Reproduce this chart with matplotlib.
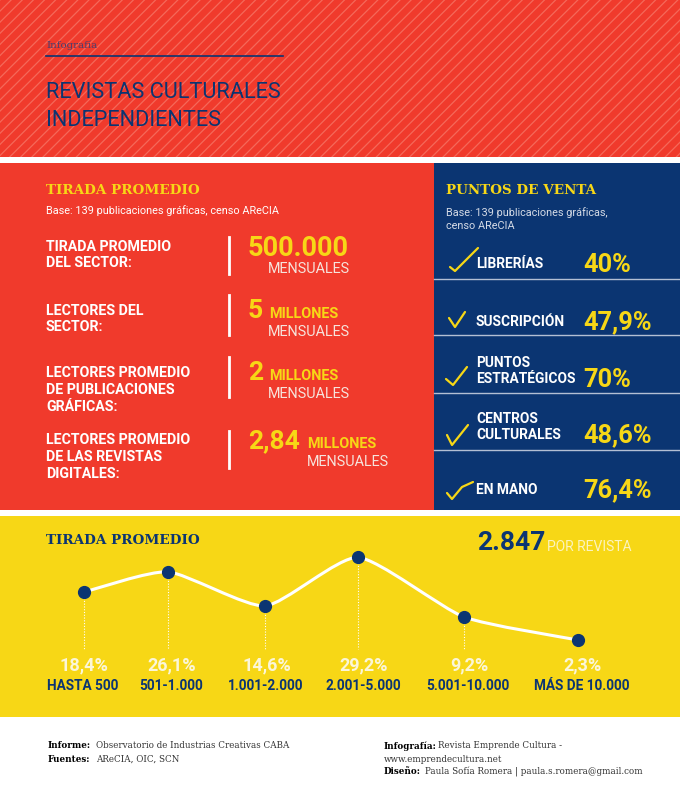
import matplotlib
matplotlib.use("Agg")
import matplotlib.pyplot as plt
from matplotlib.patches import Rectangle, PathPatch
from matplotlib.path import Path

RED = "#f03a2c"
NAVY = "#0b3572"
YELLOW = "#f7d716"
SANS = "Roboto"
SLAB = "DejaVu Serif"

# sector block
sector_labels = ["TIRADA PROMEDIO\nDEL SECTOR:", "LECTORES DEL\nSECTOR:",
                 "LECTORES PROMEDIO\nDE PUBLICACIONES\nGRÁFICAS:",
                 "LECTORES PROMEDIO\nDE LAS REVISTAS\nDIGITALES:"]
sector_values = ["500.000", "5", "2", "2,84"]
sector_units = ["", "MILLONES", "MILLONES", "MILLONES"]

# puntos de venta
venta_labels = ["LIBRERÍAS", "SUSCRIPCIÓN", "PUNTOS\nESTRATÉGICOS", "CENTROS\nCULTURALES", "EN MANO"]
venta_values = ["40%", "47,9%", "70%", "48,6%", "76,4%"]

# tirada chart
tirada_labels = ["HASTA 500", "501-1.000", "1.001-2.000", "2.001-5.000", "5.001-10.000", "MÁS DE 10.000"]
tirada_pct = ["18,4%", "26,1%", "14,6%", "29,2%", "9,2%", "2,3%"]
tirada_curve = [17.9, 24.5, 13.4, 29.2, 9.8, 2.3]

fig = plt.figure(figsize=(6.8, 8), dpi=100)
ax = fig.add_axes([0, 0, 1, 1])
ax.set_xlim(0, 680)
ax.set_ylim(800, 0)
ax.axis("off")


def txt(x, y, s, size, color="white", weight="normal", family=SANS, **kw):
    kw.setdefault("va", "center")
    kw.setdefault("ha", "left")
    return ax.text(x, y, s, fontsize=size, color=color, fontweight=weight, family=family, **kw)


# backgrounds
plt.rcParams["hatch.linewidth"] = 0.9
ax.add_patch(Rectangle((0, 0), 680, 157, fc=RED, ec="#f5695a", hatch="///", lw=0))
ax.add_patch(Rectangle((0, 163), 434, 347, fc=RED, lw=0))
ax.add_patch(Rectangle((434, 163), 246, 347, fc=NAVY, lw=0))
ax.add_patch(Rectangle((0, 516), 680, 201, fc=YELLOW, lw=0))

# header
txt(46, 45, "Infografía", 7.4, color="#4a3f70", family=SLAB)
ax.plot([46, 283], [56, 56], color=NAVY, lw=1.2)
txt(46, 93, "REVISTAS CULTURALES", 15.7, color=NAVY)
txt(46, 121, "INDEPENDIENTES", 15.7, color=NAVY)

# tirada promedio block
txt(46, 190, "TIRADA PROMEDIO", 9.7, color=YELLOW, weight="bold", family=SLAB)
txt(46, 211, "Base: 139 publicaciones gráficas, censo AReCIA", 7.8)

label_y = [255, 319, 390, 457]
bar_y = [(237, 274), (295, 335), (357, 397), (431, 468)]
value_y = [249, 311, 373, 441]
unit_x = [0, 269, 269, 307]
sub_x = [268, 268, 268, 307]
sub_y = [269, 332, 394, 462]
for i in range(4):
    txt(46, label_y[i], sector_labels[i], 10.2, weight="bold", linespacing=1.25)
    ax.plot([229, 229], bar_y[i], color="white", lw=2)
    big = 19.5 if i == 0 else 19
    txt(248, value_y[i], sector_values[i], big, color=YELLOW, weight="bold")
    if sector_units[i]:
        txt(unit_x[i], value_y[i] + 3, sector_units[i], 10.4, color=YELLOW, weight="bold")
    txt(sub_x[i], sub_y[i], "MENSUALES", 10.4, color="#f6e4dc")

# puntos de venta block
txt(446, 190, "PUNTOS DE VENTA", 9.7, color=YELLOW, weight="bold", family=SLAB)
txt(446, 219, "Base: 139 publicaciones gráficas,\ncenso AReCIA", 7.8, color="#d5dbe6", linespacing=1.3)
for sep in [279, 335, 393, 450]:
    ax.plot([434, 680], [sep, sep], color="#b4bfd4", lw=1)

venta_y = [264, 322, 371, 427, 490]
venta_val_y = [265, 322, 380, 435, 490]
checks = [([450, 455, 478], [267, 271, 248]),
          ([449, 455, 465], [318, 327, 312]),
          ([446, 453, 467], [379, 385, 367]),
          ([447, 452, 468], [435, 445, 425]),
          ([447, 452, 462, 473], [493, 499, 487, 482])]
for i in range(5):
    txt(476, venta_y[i], venta_labels[i], 9.9, weight="bold", linespacing=1.25)
    txt(583, venta_val_y[i], venta_values[i], 18.3, color=YELLOW, weight="bold")
    ax.plot(checks[i][0], checks[i][1], color=YELLOW, lw=1.6, solid_capstyle="round", zorder=3)

# chart block
txt(46, 540, "TIRADA PROMEDIO", 9.7, color=NAVY, weight="bold", family=SLAB)
txt(477, 543, "2.847", 19, color=NAVY, weight="bold")
txt(547, 547, "POR REVISTA", 10, color="#fbf3c0")

chart_x = [84, 168, 265, 358, 464, 578]
label_x = [83, 171, 266, 363, 468, 582]
# same pixel x as the page, y scale set so 2.3 -> 640 and 29.2 -> 557
cax = fig.add_axes([0, 1 - 660 / 800, 1, 120 / 800])
cax.set_xlim(0, 680)
cax.set_ylim(2.3 - 20 / 3.07, 2.3 + 100 / 3.07)
cax.axis("off")

# smooth line through the points
verts = [(chart_x[0], tirada_curve[0])]
codes = [Path.MOVETO]
n = len(chart_x)
for i in range(n - 1):
    x0, y0 = chart_x[max(i - 1, 0)], tirada_curve[max(i - 1, 0)]
    x1, y1 = chart_x[i], tirada_curve[i]
    x2, y2 = chart_x[i + 1], tirada_curve[i + 1]
    x3, y3 = chart_x[min(i + 2, n - 1)], tirada_curve[min(i + 2, n - 1)]
    verts += [(x1 + (x2 - x0) / 10, y1 + (y2 - y0) / 10), (x2 - (x3 - x1) / 10, y2 - (y3 - y1) / 10), (x2, y2)]
    codes += [Path.CURVE4] * 3
cax.add_patch(PathPatch(Path(verts, codes), fc="none", ec="white", lw=2.2, zorder=2))

for i in range(n):
    if i < n - 1:
        cax.plot([chart_x[i], chart_x[i]], [tirada_curve[i], 2.3 - 9 / 3.07], color="white", lw=0.8, ls=(0, (1, 1.5)), zorder=1)
    ax.text(label_x[i] + 1, 665, tirada_pct[i], fontsize=13, color="#fbf6d8", fontweight="bold", family=SANS, ha="center", va="center")
    ax.text(label_x[i], 686, tirada_labels[i], fontsize=9.8, color=NAVY, fontweight="bold", family=SANS, ha="center", va="center")
cax.plot(chart_x, tirada_curve, "o", color=NAVY, ms=8.5, ls="none", zorder=3)

# footer
foot = 6.3
foot_b = 6.3
txt(48, 746, "Informe:", foot_b, color="black", weight="bold", family=SLAB)
txt(96, 746, "Observatorio de Industrias Creativas CABA", foot, color="#333333", family=SLAB)
txt(48, 759, "Fuentes:", foot_b, color="black", weight="bold", family=SLAB)
txt(96, 759, "AReCIA, OIC, SCN", foot, color="#333333", family=SLAB)
txt(384, 746, "Infografía:", foot_b, color="black", weight="bold", family=SLAB)
txt(438, 746, "Revista Emprende Cultura -", foot, color="#333333", family=SLAB)
txt(384, 759, "www.emprendecultura.net", foot, color="#333333", family=SLAB)
txt(384, 772, "Diseño:", foot_b, color="black", weight="bold", family=SLAB)
txt(425, 772, "Paula Sofía Romera | paula.s.romera@gmail.com", foot, color="#333333", family=SLAB)

fig.savefig("out.png", dpi=100)
